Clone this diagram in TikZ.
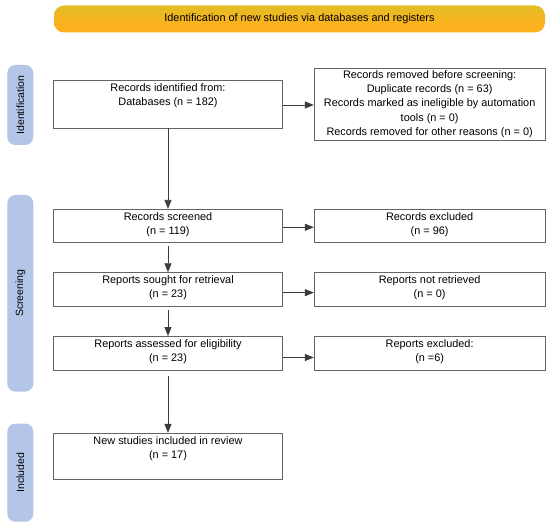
\documentclass[tikz,border=0pt]{standalone}
\usepackage{fontspec}
\setmainfont{Liberation Sans}
\usetikzlibrary{arrows.meta,shadings}
\definecolor{boxline}{RGB}{100,100,100}
\definecolor{arrline}{RGB}{60,60,60}
\definecolor{sidefill}{RGB}{180,198,231}
\definecolor{bantop}{RGB}{226,190,36}
\definecolor{banbot}{RGB}{255,176,30}
\begin{document}
\begin{tikzpicture}[x=1pt,y=-1pt,
  every node/.style={font=\fontsize{10.9}{14}\selectfont},
  box/.style={draw=boxline, line width=0.9pt, fill=white, inner sep=0pt},
  lbox/.style={box, minimum width=229.4pt},
  rbox/.style={box, minimum width=230.7pt},
  txt/.style={align=center, inner sep=0pt, anchor=north},
  side/.style={fill=sidefill, rounded corners=8pt, minimum height=26pt, inner sep=0pt, rotate=90, font=\fontsize{10.5}{12}\selectfont},
  arr/.style={-{Triangle[length=9pt,width=7pt]}, line width=0.9pt, draw=arrline},
]
\useasboundingbox (0,0) rectangle (550,527);
\fill[white] (0,0) rectangle (550,527);

% banner
\node[rounded corners=10pt, top color=bantop, bottom color=banbot, middle color=banbot!70!bantop, minimum width=491pt, minimum height=27pt, inner sep=0pt] (ban) at (299.5,19) {Identification of new studies via databases and registers};

% side bars
\node[side, minimum width=80pt] (sid) at (20.3,105) {Identification};
\node[side, minimum width=196.6pt] (sscr) at (20.3,293.3) {Screening};
\node[side, minimum width=98pt] (sinc) at (20.3,472.7) {Included};

% left boxes
\node[lbox, minimum height=48pt] (id) at (168,104) {};
\node[txt] (idt) at ([yshift=-3.5pt]id.north) {Records identified from:\\Databases (n = 182)};
\node[lbox, minimum height=33pt] (scr) at (168,225.8) {};
\node[txt] (scrt) at ([yshift=-3.5pt]scr.north) {Records screened\\(n = 119)};
\node[lbox, minimum height=33.3pt] (sou) at (168,289.35) {};
\node[txt] (sout) at ([yshift=-3.5pt]sou.north) {Reports sought for retrieval\\(n = 23)};
\node[lbox, minimum height=34pt] (ass) at (168,353.5) {};
\node[txt] (asst) at ([yshift=-3.5pt]ass.north) {Reports assessed for eligibility\\(n = 23)};
\node[lbox, minimum height=46pt] (inc) at (168,456.3) {};
\node[txt] (inct) at ([yshift=-3.5pt]inc.north) {New studies included in review\\(n = 17)};

% right boxes
\node[rbox, minimum height=71.7pt, align=center, font=\fontsize{10.9}{14.4}\selectfont] (rem) at (429.65,104.15) {Records removed before screening:\\Duplicate records (n = 63)\\Records marked as ineligible by automation\\tools (n = 0)\\Records removed for other reasons (n = 0)};
\node[rbox, minimum height=33pt] (exc) at (429.65,225.8) {};
\node[txt] (exct) at ([yshift=-3.5pt]exc.north) {Records excluded\\(n = 96)};
\node[rbox, minimum height=33.3pt] (nrt) at (429.65,289.35) {};
\node[txt] (nrtt) at ([yshift=-3.5pt]nrt.north) {Reports not retrieved\\(n = 0)};
\node[rbox, minimum height=34pt] (rex) at (429.65,353.5) {};
\node[txt] (rext) at ([yshift=-3.5pt]rex.north) {Reports excluded:\\(n =6)};

% vertical arrows
\draw[arr] (id) -- (scr);
\draw[arr, shorten <=3pt] (scr) -- (sou);
\draw[arr, shorten <=4pt] (sou) -- (ass);
\draw[arr, shorten <=5pt] (ass) -- (inc);

% horizontal arrows
\draw[arr] ([yshift=-1pt]id.east) -- ([yshift=-1pt]id.east -| rem.west);
\draw[arr] ([yshift=-1.5pt]scr.east) -- ([yshift=-1.5pt]scr.east -| exc.west);
\draw[arr] ([yshift=-3.3pt]sou.east) -- ([yshift=-3.3pt]sou.east -| nrt.west);
\draw[arr] ([yshift=-4pt]ass.east) -- ([yshift=-4pt]ass.east -| rex.west);
\end{tikzpicture}
\end{document}
